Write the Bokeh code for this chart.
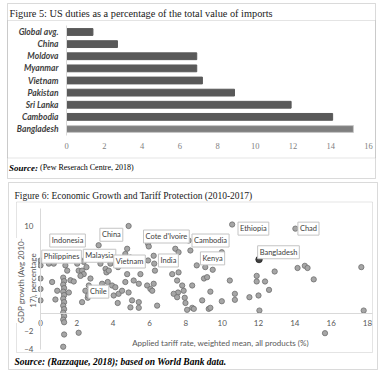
from math import pi
from bokeh.plotting import figure
from bokeh.models import Range1d, FixedTicker, Label, BoxAnnotation, LinearAxis
from bokeh.embed import file_html
from bokeh.resources import INLINE

# ---------------- data: Figure 5 ----------------
countries = ["Global avg.", "China", "Moldova", "Myanmar", "Vietnam",
             "Pakistan", "Sri Lanka", "Cambodia", "Bangladesh"]
duties = [1.4, 2.7, 6.9, 6.9, 7.2, 8.9, 11.9, 14.1, 15.2]
duty_ticks = [0, 2, 4, 6, 8, 10, 12, 14, 16]

# ---------------- data: Figure 6 ----------------
tariff = [3.2, 4.85, 0.46, 0.73, 0.0, 0.0, 0.0, 0.0, 0.0, 0.64, 0.92, 0.82,
          1.37, 1.47, 1.65, 1.83, 1.56, 2.29, 2.47, 2.6, 2.66, 2.75, 2.1, 2.29,
          2.38, 2.2, 2.2, 2.38, 2.02, 2.53, 3.3, 3.58, 3.63, 3.85, 3.76, 3.39,
          3.48, 3.7, 3.94, 4.12, 4.03, 4.3, 4.49, 4.27, 4.49, 4.77, 4.77, 4.67,
          4.85, 5.92, 5.96, 8.16, 10.55, 4.67, 4.95, 5.92, 6.23, 6.26, 6.3, 7.05,
          7.15, 7.42, 7.6, 8.25, 8.6, 9.07, 9.48, 9.98, 5.5, 5.13, 5.41, 5.87,
          6.05, 6.15, 6.23, 7.25, 7.6, 7.52, 8.35, 9.0, 9.17, 7.57, 7.88, 7.94,
          7.98, 8.9, 9.35, 9.98, 10.7, 10.7, 11.5, 8.07, 8.35, 8.44, 9.26, 9.35,
          6.42, 5.41, 5.41, 5.04, 14.03, 12.89, 14.15, 14.55, 14.7, 17.66, 15.04,
          11.9, 11.9, 12.36, 12.58, 12.0, 12.05, 17.79, 15.66, 10.42, 4.25, 4.95,
          7.33, 7.52, 7.8, 2.62,
          1.25, 1.3, 1.25, 1.3, 1.25, 1.3, 1.25, 1.3, 1.25, 1.3, 1.25, 1.3, 1.25,
          1.3, 1.3, 1.25, 2.1]
growth = [7.8, 10.0, 5.7, 5.7, 6.05, 5.5, 4.0, 2.8, 1.5, 3.6, 2.6, 1.6,
          5.5, 4.9, 3.8, 3.66, 2.4, 1.3, 2.6, 1.8, 3.2, 4.0, 4.9, 4.9,
          4.5, 4.3, 6.1, 5.9, 5.7, 5.3, 5.7, 5.1, 4.7, 5.7, 4.9, 3.4,
          3.0, 3.6, 3.2, 3.0, 2.06, 2.25, 2.6, 5.3, 5.7, 7.4, 4.5, 3.6,
          2.4, 7.97, 7.66, 8.34, 10.17, 6.8, 6.4, 6.06, 6.6, 5.7, 4.9, 5.7,
          6.06, 7.4, 7.0, 7.2, 5.5, 5.3, 5.0, 7.0, 4.5, 3.77, 3.4, 3.2,
          2.8, 2.6, 3.4, 4.5, 4.7, 3.77, 3.2, 4.0, 4.15, 2.4, 2.6, 1.8,
          1.2, 1.5, 2.5, 1.4, 2.25, 1.56, 1.86, 0.42, 0.65, 0.53, 0.53, 0.65,
          0.9, 1.3, 0.65, 1.5, 9.7, 4.8, 5.2, 5.45, 5.2, 5.3, 3.9,
          4.3, 3.66, 3.66, 2.7, 2.06, 0.34, 0.34, -2.25, 3.77, 1.2, 0.7,
          2.25, 1.86, 3.2, 2.06,
          4.1, 3.7, 3.3, 2.9, 2.5, 2.1, 1.7, 1.3, 0.9, 0.5, 0.1, -0.3, -0.7,
          -1.0, -2.4, -3.8, -2.2]
bd_tariff, bd_growth = [12.03], [6.17]
growth_ticks = [-4, -2, 0, 2, 4, 6, 8, 10]
tariff_ticks = [0, 2, 4, 6, 8, 10, 12, 14, 16, 18]
point_labels = ["Indonesia", "China", "Philippines", "Malaysia", "Vietnam", "Chile",
                "Cote d'Ivoire", "Cambodia", "India", "Kenya", "Ethiopia", "Chad",
                "Bangladesh"]
# label anchor positions (data units of the scatter)
label_x = [1.49, 3.9, 1.16, 3.25, 4.9, 3.19, 6.93, 9.36, 7.04, 9.47, 11.72, 14.75, 13.1]
label_y = [8.34, 9.0, 6.5, 6.6, 5.94, 2.5, 8.8, 8.34, 6.06, 6.3, 9.7, 9.7, 7.0]

# ---------------- layout constants (canvas pixels) ----------------
W, H = 379, 372
SERIF = "Liberation Serif"
SANS = "Lato"
BORDER = "#858585"
INNER = "#a6a6a6"


def x_range_for(v0, px0, v1, px1):
    k = (v1 - v0) / (px1 - px0)
    return Range1d(v0 - px0 * k, v0 + (W - px0) * k)


def y_range_for(v0, py0, v1, py1):
    k = (v1 - v0) / (py1 - py0)
    return Range1d(v0 + (H - py0) * k, v0 - py0 * k)


p = figure(width=W, height=H, x_range=Range1d(0, W), y_range=Range1d(H, 0),
           x_axis_location=None, y_axis_location=None, title=None,
           output_backend="svg", toolbar_location=None, min_border=0,
           outline_line_color=None)
p.grid.visible = False

p.extra_x_ranges = {"duty": x_range_for(0, 66, 16, 368),
                    "tariff": x_range_for(0, 40, 18, 367)}
p.extra_y_ranges = {"cat": y_range_for(0, 31.5, 8, 128.5),
                    "growth": y_range_for(0, 313, 10, 225.5)}

# ---------------- panel frames ----------------
for l, r, t, b, c in [(7, 375, 3, 178, BORDER), (7, 375, 20, 157.5, INNER),
                      (8, 377, 182, 369, BORDER), (16, 372, 201.5, 352, INNER)]:
    p.add_layout(BoxAnnotation(left=l, right=r, top=t, bottom=b, fill_color=None,
                               line_color=c, line_width=1, level="underlay"))

# ======================= Figure 5 =======================
ypos = list(range(len(countries)))
fills = ["#7f7f7f" if c == "Bangladesh" else "#595959" for c in countries]
lines = ["#c8c8c8" if c == "Bangladesh" else "#595959" for c in countries]
p.hbar(y=ypos, left=0, right=duties, height=0.56, fill_color=fills,
       line_color=lines, line_width=1, x_range_name="duty", y_range_name="cat")

ay1 = LinearAxis(x_range_name="duty", y_range_name="cat", fixed_location=0,
                 ticker=FixedTicker(ticks=ypos),
                 major_label_overrides={i: c for i, c in zip(ypos, countries)},
                 bounds=(-0.55, 8.55), axis_line_color="#d9d9d9",
                 major_tick_out=0, major_tick_in=0, minor_tick_line_color=None,
                 major_label_standoff=8, major_label_text_font=SANS,
                 major_label_text_font_style="bold italic",
                 major_label_text_font_size="8.5px", major_label_text_color="#404040")
p.add_layout(ay1, "left")

ax1 = LinearAxis(x_range_name="duty", y_range_name="cat", fixed_location=9.0,
                 ticker=FixedTicker(ticks=duty_ticks), axis_line_color=None,
                 major_tick_out=0, major_tick_in=0, minor_tick_line_color=None,
                 major_label_standoff=2, major_label_text_font=SERIF,
                 major_label_text_font_size="8.5px", major_label_text_color="#7f7f7f")
p.add_layout(ax1, "below")

p.add_layout(Label(x=9, y=13,
                   text="Figure 5: US duties as a percentage of the total value of imports",
                   text_font=SERIF, text_font_size="10.3px", text_color="#1a1a1a",
                   text_baseline="middle"))
p.add_layout(Label(x=8.5, y=167, text="Source:", text_font=SERIF,
                   text_font_style="bold italic", text_font_size="9px",
                   text_color="#000000", text_baseline="middle"))
p.add_layout(Label(x=39.5, y=167, text="(Pew Reserach Centre, 2018)",
                   text_font=SERIF, text_font_size="8px", text_color="#000000",
                   text_baseline="middle"))

# ======================= Figure 6 =======================
ax2 = LinearAxis(x_range_name="tariff", y_range_name="growth", fixed_location=0,
                 ticker=FixedTicker(ticks=tariff_ticks), bounds=(0, 18.3),
                 axis_line_color="#d9d9d9", major_tick_out=0, major_tick_in=0,
                 minor_tick_line_color=None, major_label_standoff=6,
                 major_label_text_font=SANS, major_label_text_font_size="8px",
                 major_label_text_color="#595959")
p.add_layout(ax2, "below")

ay2 = LinearAxis(x_range_name="tariff", y_range_name="growth", fixed_location=0,
                 ticker=FixedTicker(ticks=growth_ticks), bounds=(-4.1, 12),
                 axis_line_color="#d9d9d9", major_tick_out=0, major_tick_in=0,
                 minor_tick_line_color=None, major_label_standoff=7,
                 major_label_text_font=SANS, major_label_text_font_size="8px",
                 major_label_text_color="#595959")
p.add_layout(ay2, "left")

p.scatter(tariff, growth, size=5.3, fill_color="#a6a6a6", line_color="#6e6e6e",
          line_width=0.8, x_range_name="tariff", y_range_name="growth")
p.scatter(bd_tariff, bd_growth, size=6.5, fill_color="#404040", line_color="#262626",
          line_width=0.8, x_range_name="tariff", y_range_name="growth")

for name, lx, ly in zip(point_labels, label_x, label_y):
    p.add_layout(Label(x=lx, y=ly, x_range_name="tariff", y_range_name="growth",
                       text=name, text_font=SANS, text_font_size="7.5px",
                       text_color="#404040", text_align="center",
                       text_baseline="middle", background_fill_color="white",
                       border_line_color="#c4c4c4", border_line_width=1, padding=2))

p.add_layout(Label(x=26.5, y=280, text="GDP growth (Avg 2010-\n17), percentage",
                   angle=pi / 2, text_font=SANS, text_font_size="8px",
                   text_color="#595959", text_align="center", text_baseline="middle",
                   background_fill_color="white"))
p.add_layout(Label(x=220, y=342,
                   text="Applied tariff rate, weighted mean, all products (%)",
                   text_font=SANS, text_font_size="8px", text_color="#595959",
                   text_align="center", text_baseline="middle"))
p.add_layout(Label(x=14, y=195,
                   text="Figure 6: Economic Growth and Tariff Protection (2010-2017)",
                   text_font=SERIF, text_font_size="9.5px", text_color="#1a1a1a",
                   text_baseline="middle"))
p.add_layout(Label(x=14, y=361,
                   text="Source: (Razzaque, 2018); based on World Bank data.",
                   text_font=SERIF, text_font_style="bold italic",
                   text_font_size="9.5px", text_color="#000000", text_baseline="middle"))

open("out.html", "w").write(file_html(p, INLINE))
